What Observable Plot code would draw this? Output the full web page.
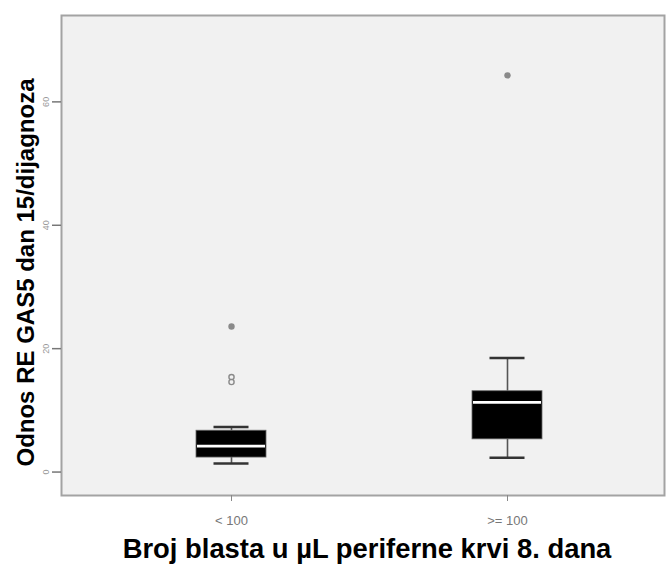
<!DOCTYPE html>
<html>
<head>
<meta charset="utf-8">
<script src="https://cdn.jsdelivr.net/npm/d3@7"></script>
<script src="https://cdn.jsdelivr.net/npm/@observablehq/plot@0.6"></script>
<style>
  html, body { margin: 0; padding: 0; background: #fff; }
  #chart svg { display: block; }
</style>
</head>
<body>
<div id="chart"></div>
<script>
const categories = ["< 100", ">= 100"];
const lowerWhisker = [1.4, 2.3];
const q1 = [2.35, 5.3];
const median = [4.2, 11.3];
const q3 = [6.7, 13.1];
const upperWhisker = [7.3, 18.5];
const outlierCategory = ["< 100", "< 100", "< 100", ">= 100"];
const outlierValue = [23.6, 15.4, 14.6, 64.3];
const outlierFilled = [true, false, false, true];
const yTicks = [0, 20, 40, 60];
const yLabel = "Odnos RE GAS5 dan 15/dijagnoza";
const xLabel = "Broj blasta u µL periferne krvi 8. dana";

const boxes = categories.map((c, i) => ({
  cat: c, lo: lowerWhisker[i], q1: q1[i], med: median[i], q3: q3[i], hi: upperWhisker[i]
}));
const outliers = outlierValue.map((v, i) => ({cat: outlierCategory[i], value: v, filled: outlierFilled[i]}));

const font = "'Liberation Sans', Arial, sans-serif";

const chart = Plot.plot({
  width: 668,
  height: 567,
  marginLeft: 61,
  marginRight: 4,
  marginTop: 15,
  marginBottom: 72,
  style: {fontFamily: font, background: "#fff"},
  x: {type: "band", domain: categories, paddingInner: 0.747, paddingOuter: 0.462, align: 0.523, label: null},
  y: {domain: [-3.8, 74], label: null},
  marks: [
    Plot.frame({fill: "#f1f1f1", stroke: "#a3a3a3", strokeWidth: 2}),
    Plot.axisY({ticks: yTicks, tickSize: 9, tickPadding: 4, tickRotate: -90, fontSize: 9, color: "#999", stroke: "#777", strokeWidth: 1.5, label: null}),
    Plot.axisX({tickSize: 6, tickPadding: 14, fontSize: 13, color: "#777", stroke: "#888", label: null}),
    Plot.ruleX(boxes, {x: "cat", y1: "lo", y2: "q1", stroke: "#555", strokeWidth: 1.6}),
    Plot.ruleX(boxes, {x: "cat", y1: "q3", y2: "hi", stroke: "#555", strokeWidth: 1.6}),
    Plot.tickY(boxes, {x: "cat", y: "lo", stroke: "#333", strokeWidth: 2.5, inset: 17.5}),
    Plot.tickY(boxes, {x: "cat", y: "hi", stroke: "#333", strokeWidth: 2.5, inset: 17.5}),
    Plot.barY(boxes, {x: "cat", y1: "q1", y2: "q3", fill: "#000", stroke: "#666", strokeWidth: 0.8}),
    Plot.tickY(boxes, {x: "cat", y: "med", stroke: "#fff", strokeWidth: 2.6, inset: 1}),
    Plot.dot(outliers.filter(d => d.filled), {x: "cat", y: "value", r: 3.2, fill: "#8a8a8a", stroke: "none"}),
    Plot.dot(outliers.filter(d => !d.filled), {x: "cat", y: "value", r: 2.6, fill: "none", stroke: "#8a8a8a", strokeWidth: 1.4}),
    Plot.text([yLabel], {frameAnchor: "left", textAnchor: "middle", rotate: -90, dx: -35, dy: 17, fontSize: 24, fontWeight: "bold", fill: "#000", lineAnchor: "middle"}),
    Plot.text([xLabel], {frameAnchor: "bottom", textAnchor: "middle", dx: 4, dy: 54, fontSize: 27.4, fontWeight: "bold", fill: "#000", lineAnchor: "middle"})
  ]
});
document.getElementById("chart").appendChild(chart);
</script>
</body>
</html>
